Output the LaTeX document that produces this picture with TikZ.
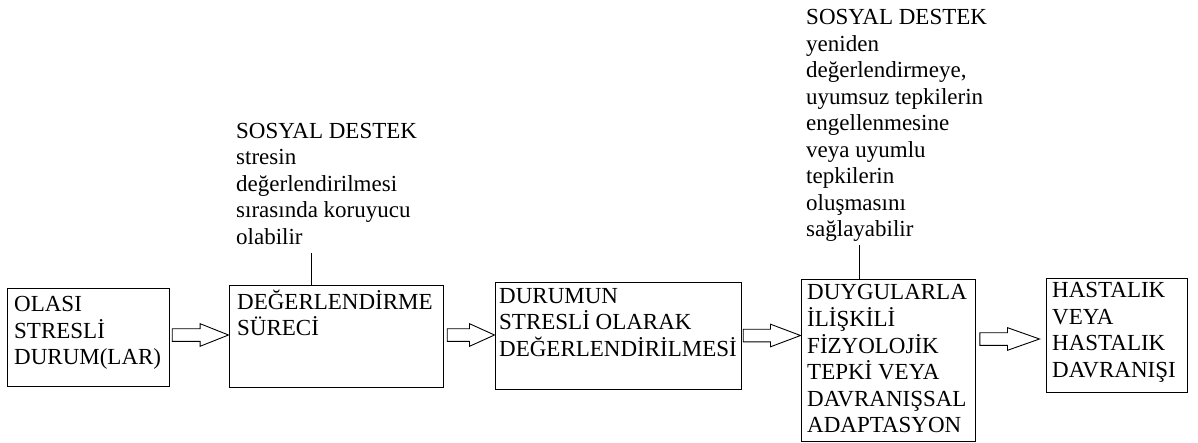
\documentclass[tikz,border=0pt]{standalone}
\usepackage{fontspec}
\setmainfont{Liberation Serif}
\usetikzlibrary{calc}

% block of left-aligned lines, baseline on the first line
\newcommand{\textlines}[1]{\parbox[t]{320pt}{\raggedright #1}}

% hollow block arrow: tail coordinate, tip coordinate, head length
\newcommand{\blockarrow}[3]{%
  \draw[hollow]
    ($(#1)+(0,-6.3)$) -- ($(#2)+(-#3,-6.3)$) -- ($(#2)+(-#3,-11.3)$) --
    (#2) --
    ($(#2)+(-#3,11.3)$) -- ($(#2)+(-#3,6.3)$) -- ($(#1)+(0,6.3)$) -- cycle;}

\tikzset{
  box/.style={draw, line width=1pt, inner sep=0pt, fill=white},
  words/.style={anchor=base west, inner sep=0pt,
                font=\fontsize{23}{26.5}\selectfont},
  hollow/.style={draw, fill=white, line width=0.9pt, line join=miter},
  stem/.style={line width=1pt}
}

\begin{document}
\begin{tikzpicture}[x=1pt, y=-1pt]
\useasboundingbox (0,0) rectangle (1198,443);

% boxes
\node[box, minimum width=162pt, minimum height=97pt]  (b1) at (88,337.5) {};
\node[box, minimum width=214pt, minimum height=101pt] (b2) at (336,336.5) {};
\node[box, minimum width=246pt, minimum height=106pt] (b3) at (618,336) {};
\node[box, minimum width=174pt, minimum height=162pt] (b4) at (888,360.5) {};
\node[box, minimum width=141pt, minimum height=113pt] (b5) at (1116.5,335.5) {};

% box texts
\node[words] (t1) at (14,312)   {\textlines{OLASI\\STRESLİ\\DURUM(LAR)}};
\node[words] (t2) at (237,309)  {\textlines{DEĞERLENDİRME\\SÜRECİ}};
\node[words] (t3) at (499,303)  {\textlines{DURUMUN\\STRESLİ OLARAK\\DEĞERLENDİRİLMESİ}};
\node[words] (t4) at (807,300)  {\textlines{DUYGULARLA\\İLİŞKİLİ\\FİZYOLOJİK\\TEPKİ VEYA\\DAVRANIŞSAL\\ADAPTASYON}};
\node[words] (t5) at (1052,298) {\textlines{HASTALIK\\VEYA\\HASTALIK\\DAVRANIŞI}};

% social support notes
\node[words] (s1) at (236,138.3) {\textlines{SOSYAL DESTEK\\stresin\\değerlendirilmesi\\sırasında koruyucu\\olabilir}};
\node[words] (s2) at (806,25) {\textlines{SOSYAL DESTEK\\yeniden\\değerlendirmeye,\\uyumsuz tepkilerin\\engellenmesine\\veya uyumlu\\tepkilerin\\oluşmasını\\sağlayabilir}};

% stems from the notes down to the boxes
\coordinate (p1) at (311,253);
\coordinate (p2) at (859,245);
\draw[stem] (p1) -- (p1 |- b2.north);
\draw[stem] (p2) -- (p2 |- b4.north);

% hollow arrows between the boxes
\coordinate (y1) at (0,335);
\coordinate (y2) at (0,335);
\coordinate (y3) at (0,335.5);
\coordinate (y4) at (0,339);
\coordinate (a1) at ($(b1.east |- y1)+(2.7,0)$);
\coordinate (h1) at (b2.west |- y1);
\coordinate (a2) at ($(b2.east |- y2)+(3.7,0)$);
\coordinate (h2) at (b3.west |- y2);
\coordinate (a3) at ($(b3.east |- y3)+(1.7,0)$);
\coordinate (h3) at (b4.west |- y3);
\coordinate (a4) at ($(b4.east |- y4)+(4.3,0)$);
\coordinate (h4) at ($(b5.west |- y4)+(-6,0)$);
\blockarrow{a1}{h1}{28.4}
\blockarrow{a2}{h2}{25}
\blockarrow{a3}{h3}{30}
\blockarrow{a4}{h4}{32}
\end{tikzpicture}
\end{document}
